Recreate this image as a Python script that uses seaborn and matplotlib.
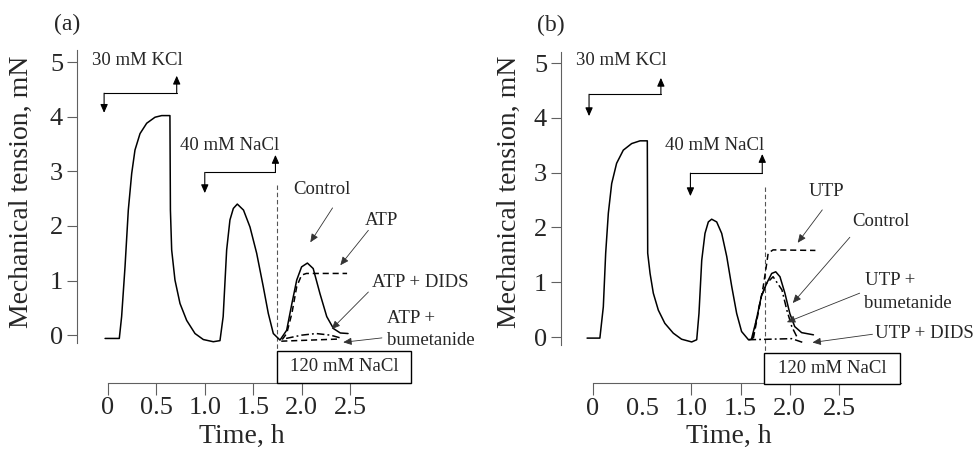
import matplotlib
matplotlib.use('Agg')
import matplotlib.pyplot as plt
from matplotlib.patches import Rectangle
import seaborn as sns
import pandas as pd

# ---- data (time in h, tension in mN) ----
a_control_t = [-0.03, 0.117, 0.141, 0.176, 0.21, 0.245, 0.279, 0.331, 0.40, 0.486, 0.555, 0.64,
               0.645, 0.658, 0.692, 0.744, 0.813, 0.899, 0.985, 1.088, 1.157,
               1.19, 1.226, 1.26, 1.295, 1.336, 1.40, 1.467, 1.536, 1.604, 1.656, 1.708, 1.777,
               1.846, 1.90, 1.95, 2.00, 2.06, 2.12, 2.19, 2.26, 2.33, 2.40, 2.48]
a_control_v = [-0.06, -0.06, 0.34, 1.25, 2.29, 2.96, 3.39, 3.69, 3.88, 3.99, 4.02, 4.02,
               2.29, 1.56, 1.01, 0.58, 0.27, 0.03, -0.08, -0.12, -0.10,
               0.34, 1.56, 2.11, 2.32, 2.40, 2.29, 1.98, 1.50, 0.89, 0.40, 0.03, -0.09,
               0.09, 0.58, 1.01, 1.25, 1.32, 1.22, 0.76, 0.34, 0.12, 0.04, 0.03]
a_atp_t = [1.80, 1.846, 1.90, 1.95, 2.00, 2.05, 2.47]
a_atp_v = [-0.08, 0.03, 0.40, 0.89, 1.10, 1.13, 1.13]
a_dids_t = [1.84, 2.00, 2.15, 2.30, 2.40]
a_dids_v = [-0.06, 0.0, 0.03, 0.0, -0.05]
a_bum_t = [1.79, 2.40]
a_bum_v = [-0.11, -0.07]

b_control_t = [-0.06, 0.07, 0.105, 0.129, 0.156, 0.19, 0.24, 0.308, 0.393, 0.478, 0.552,
               0.556, 0.58, 0.613, 0.664, 0.73, 0.816, 0.90, 1.003, 1.054,
               1.077, 1.105, 1.138, 1.172, 1.206, 1.257, 1.308, 1.359, 1.41, 1.46, 1.51, 1.58,
               1.61, 1.66, 1.71, 1.765, 1.816, 1.857, 1.90, 1.95, 2.00, 2.05, 2.12, 2.24]
b_control_v = [-0.02, -0.02, 0.55, 1.53, 2.26, 2.80, 3.17, 3.41, 3.53, 3.58, 3.58,
               1.53, 1.16, 0.80, 0.49, 0.25, 0.07, -0.04, -0.09, -0.05,
               0.43, 1.40, 1.89, 2.10, 2.15, 2.10, 1.89, 1.47, 0.92, 0.43, 0.10, -0.05,
               -0.04, 0.31, 0.74, 0.98, 1.16, 1.19, 1.10, 0.80, 0.43, 0.19, 0.08, 0.04]
b_utp_t = [1.63, 1.73, 1.765, 1.78, 1.83, 2.26]
b_utp_v = [-0.02, 0.92, 1.34, 1.53, 1.59, 1.58]
b_bum_t = [1.62, 1.66, 1.71, 1.765, 1.83, 1.92, 1.97, 2.02, 2.07]
b_bum_v = [-0.05, 0.31, 0.74, 0.98, 1.10, 0.86, 0.49, 0.19, 0.01]
b_dids_t = [1.58, 2.02, 2.15]
b_dids_v = [-0.05, -0.03, -0.11]

x_ticks = [0, 0.5, 1.0, 1.5, 2.0, 2.5]
x_tick_labels = ['0', '0.5', '1.0', '1.5', '2.0', '2.5']
y_ticks = [0, 1, 2, 3, 4, 5]

sns.set_style('ticks')
plt.rcParams['font.family'] = ['Liberation Serif', 'DejaVu Serif']

fig = plt.figure(figsize=(9.79, 4.5), dpi=100)
ax_a = fig.add_axes([77 / 979, 40 / 450, (485.5 - 77) / 979, 390 / 450])
ax_b = fig.add_axes([561 / 979, 40 / 450, (976.8 - 561) / 979, 390 / 450])

AX_COL = '#606060'
TXT = 13.5
DASH = (0, (4, 2.5))
DASHDOT = (0, (5, 2, 1.2, 2))


def trace(ax, t, v, ls, lw=1.1):
    df = pd.DataFrame({'t': t, 'v': v})
    sns.lineplot(data=df, x='t', y='v', ax=ax, color='k', lw=lw, linestyle=ls,
                 sort=False, estimator=None)


def arrow(ax, start, end, lw=0.8, color='k', head=10):
    ax.annotate('', xy=end, xytext=start,
                arrowprops=dict(arrowstyle='-|>,head_length=0.5,head_width=0.22',
                                lw=lw, color=color, shrinkA=0, shrinkB=0,
                                mutation_scale=head))


def bracket(ax, x0, x1, y, y_down, y_up):
    ax.plot([x0, x1], [y, y], color='k', lw=0.8)
    arrow(ax, (x0, y), (x0, y_down))
    arrow(ax, (x1, y), (x1, y_up))


def setup(ax, xlim, ylim, xaxis_y, ybounds, label_x, ylabel_x, skip_tick=None):
    ax.set_xlim(*xlim)
    ax.set_ylim(*ylim)
    for s in ['top', 'right']:
        ax.spines[s].set_visible(False)
    for s in ['left', 'bottom']:
        ax.spines[s].set_color(AX_COL)
        ax.spines[s].set_linewidth(0.8)
    ax.spines['bottom'].set_position(('data', xaxis_y))
    ax.spines['bottom'].set_bounds(0, 3.13)
    ax.spines['left'].set_bounds(*ybounds)
    ax.set_xticks(x_ticks)
    ax.set_xticklabels(x_tick_labels)
    ax.set_yticks(y_ticks)
    ax.tick_params(axis='both', direction='out', color=AX_COL, width=0.8, labelsize=19)
    ax.tick_params(axis='x', length=8.5, pad=2)
    ax.tick_params(axis='y', length=7, pad=3)
    if skip_tick is not None:
        ax.xaxis.get_major_ticks()[skip_tick].tick1line.set_visible(False)
    ax.set_xlabel('Time, h', fontsize=20)
    ax.xaxis.label.set_verticalalignment('center')
    ax.xaxis.set_label_coords(label_x, -0.068)
    ax.set_ylabel('Mechanical tension, mN', fontsize=20)
    ax.yaxis.label.set_verticalalignment('center')
    ax.yaxis.set_label_coords(ylabel_x, 0.559)


def nacl_box(ax, x0, y0, w, h):
    ax.add_patch(Rectangle((x0, y0), w, h, fc='white', ec='k', lw=1.0, zorder=5,
                           clip_on=False))
    ax.text(x0 + w / 2, y0 + h / 2, '120 mM NaCl', ha='center', va='center',
            fontsize=TXT, zorder=6)


# ---- panel (a) ----
ax = ax_a
setup(ax, (-0.32, 3.9), (-1.37, 5.77), -0.87, (-0.15, 5.22), 0.404, -0.135)
ax.plot([1.75, 1.75], [2.75, -0.29], color='#555555', lw=0.8, ls=(0, (4, 2.5)))
trace(ax, a_control_t, a_control_v, '-')
trace(ax, a_atp_t, a_atp_v, DASH)
trace(ax, a_dids_t, a_dids_v, DASHDOT)
trace(ax, a_bum_t, a_bum_v, DASH)
nacl_box(ax, 1.75, -0.87, 1.38, 0.58)

ax.text(0.30, 5.02, '30 mM KCl', ha='center', va='center', fontsize=TXT)
bracket(ax, -0.04, 0.71, 4.43, 4.07, 4.75)
ax.text(1.26, 3.48, '40 mM NaCl', ha='center', va='center', fontsize=TXT)
bracket(ax, 1.00, 1.73, 2.98, 2.60, 3.30)

ax.text(2.21, 2.66, 'Control', ha='center', va='center', fontsize=TXT)
arrow(ax, (2.32, 2.33), (2.09, 1.70), lw=0.6, color='#333333')
ax.text(2.83, 2.10, 'ATP', ha='center', va='center', fontsize=TXT)
arrow(ax, (2.69, 1.92), (2.40, 1.28), lw=0.6, color='#333333')
ax.text(3.23, 0.97, 'ATP + DIDS', ha='center', va='center', fontsize=TXT)
arrow(ax, (2.69, 0.79), (2.31, 0.11), lw=0.6, color='#333333')
ax.text(2.88, 0.31, 'ATP +', ha='left', va='center', fontsize=TXT)
ax.text(2.88, -0.09, 'bumetanide', ha='left', va='center', fontsize=TXT)
arrow(ax, (2.83, -0.05), (2.43, -0.13), lw=0.6, color='#333333')
ax.text(-0.42, 5.68, '(a)', ha='center', va='center', fontsize=17)

# ---- panel (b) ----
ax = ax_b
setup(ax, (-0.325, 3.9), (-1.332, 5.785), -0.84, (-0.15, 5.2), 0.404, -0.125,
      skip_tick=1)
ax.plot([1.75, 1.75], [2.74, -0.29], color='#555555', lw=0.8, ls=(0, (4, 2.5)))
trace(ax, b_control_t, b_control_v, '-')
trace(ax, b_utp_t, b_utp_v, DASH)
trace(ax, b_bum_t, b_bum_v, DASHDOT)
trace(ax, b_dids_t, b_dids_v, DASHDOT)
nacl_box(ax, 1.74, -0.86, 1.38, 0.57)

ax.text(0.29, 5.04, '30 mM KCl', ha='center', va='center', fontsize=TXT)
bracket(ax, -0.04, 0.69, 4.43, 4.03, 4.73)
ax.text(1.24, 3.50, '40 mM NaCl', ha='center', va='center', fontsize=TXT)
bracket(ax, 0.99, 1.72, 2.99, 2.57, 3.34)

ax.text(2.37, 2.65, 'UTP', ha='center', va='center', fontsize=TXT)
arrow(ax, (2.33, 2.32), (2.08, 1.72), lw=0.6, color='#333333')
ax.text(2.93, 2.10, 'Control', ha='center', va='center', fontsize=TXT)
arrow(ax, (2.61, 1.82), (2.03, 0.62), lw=0.6, color='#333333')
ax.text(2.76, 1.04, 'UTP +', ha='left', va='center', fontsize=TXT)
ax.text(2.75, 0.62, 'bumetanide', ha='left', va='center', fontsize=TXT)
arrow(ax, (2.71, 0.80), (1.97, 0.27), lw=0.6, color='#333333')
ax.text(3.37, 0.07, 'UTP + DIDS', ha='center', va='center', fontsize=TXT)
arrow(ax, (2.84, 0.05), (2.23, -0.10), lw=0.6, color='#333333')
ax.text(-0.43, 5.69, '(b)', ha='center', va='center', fontsize=17)

for a in (ax_a, ax_b):
    for t in a.texts:
        t.set_clip_on(False)

fig.savefig('out.png', dpi=100)
